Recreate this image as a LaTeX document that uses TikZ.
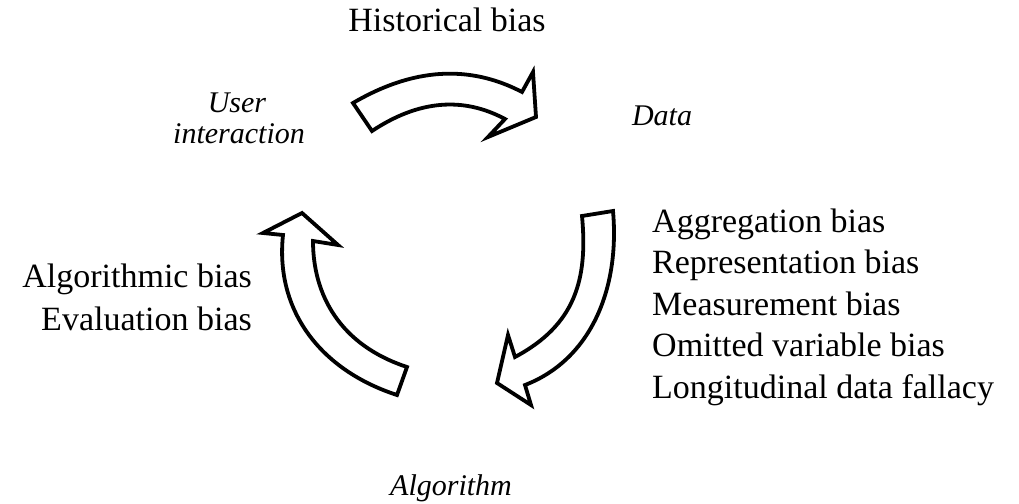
\documentclass[tikz,border=0pt]{standalone}
\usepackage{fontspec}
\setmainfont{Liberation Serif}
\begin{document}
\begin{tikzpicture}[x=1pt,y=-1pt,
  bigarrow/.style={draw=black,line width=3.8pt,fill=white,line join=miter},
  lbl/.style={inner sep=0pt,font=\fontsize{34}{40}\selectfont},
  stage/.style={inner sep=0pt,font=\fontsize{30}{34}\selectfont\itshape}]
\useasboundingbox (0,0) rectangle (1019,503);
% top arrow (user interaction -> data)
\draw[bigarrow] (353,103) .. controls (412.7,68) and (469,64.3) .. (522,92)
  -- (533,72) -- (536,117) -- (488,137) -- (505,119)
  .. controls (462.7,96.3) and (418.3,100.3) .. (372,131) -- cycle;
% right arrow (data -> algorithm)
\draw[bigarrow] (613,211) .. controls (620,290) and (590,360) .. (525,385)
  -- (531,405) -- (497,383) -- (508,335) -- (515,357)
  .. controls (575,325) and (588,280) .. (582,216) -- cycle;
% left arrow (algorithm -> user interaction)
\draw[bigarrow] (397,395) .. controls (320,370) and (275,310) .. (283,235)
  -- (263,233) -- (302,213) -- (338,245) -- (313,241)
  .. controls (313,295) and (340,345) .. (407,367) -- cycle;
% stage labels
\node[stage,anchor=base] (ui1) at (237,112) {User};
\node[stage,anchor=base] (ui2) at (239,143) {interaction};
\node[stage,anchor=base] (data) at (662,125) {Data};
\node[stage,anchor=base] (alg) at (451,495) {Algorithm};
% bias labels
\node[lbl,anchor=base] (hist) at (447,32) {Historical bias};
\node[lbl,anchor=base west] (r1) at (652,232) {Aggregation bias};
\node[lbl,anchor=base west] (r2) at (652,273) {Representation bias};
\node[lbl,anchor=base west] (r3) at (652,315) {Measurement bias};
\node[lbl,anchor=base west] (r4) at (652,356) {Omitted variable bias};
\node[lbl,anchor=base west] (r5) at (652,398) {Longitudinal data fallacy};
\node[lbl,anchor=base east] (l1) at (252,287) {Algorithmic bias};
\node[lbl,anchor=base east] (l2) at (252,330) {Evaluation bias};
\end{tikzpicture}
\end{document}
